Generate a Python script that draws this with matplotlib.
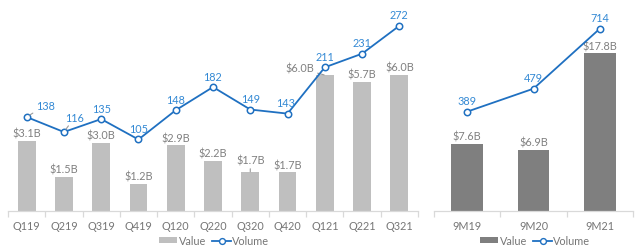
import matplotlib
matplotlib.use("Agg")
import matplotlib.pyplot as plt
from matplotlib.lines import Line2D
from matplotlib.patches import Patch

plt.rcParams['font.family'] = ['Lato', 'DejaVu Sans']

# ---- data ----
q_labels = ["Q119", "Q219", "Q319", "Q419", "Q120", "Q220", "Q320", "Q420", "Q121", "Q221", "Q321"]
q_value = [3.1, 1.5, 3.0, 1.2, 2.9, 2.2, 1.7, 1.7, 6.0, 5.7, 6.0]
q_volume = [138, 116, 135, 105, 148, 182, 149, 143, 211, 231, 272]

m_labels = ["9M19", "9M20", "9M21"]
m_value = [7.6, 6.9, 17.8]
m_volume = [389, 479, 714]

BLUE = "#1f70c1"
BLUE_TXT = "#3389d4"
GREY_TXT = "#808080"
TICK_TXT = "#767676"
AXIS_C = "#d9d9d9"
LEAD_C = "#9a9a9a"
FS = 7.8

fig = plt.figure(figsize=(6.4, 2.53), dpi=100)
W, H = 640, 253


def make_axes(x0, x1, n, bar_top, line_top, bar_color, labels, values, volumes,
              val_offsets, vol_offsets, legend_center):
    ax = fig.add_axes([x0 / W, 41 / H, (x1 - x0) / W, 202 / H])
    ax2 = ax.twinx()
    xs = list(range(n))
    ax.bar(xs, values, width=0.48, color=bar_color, zorder=2)
    ax2.plot(xs, volumes, color=BLUE, lw=1.3, marker='o', ms=4.6,
             mfc='white', mec=BLUE, mew=1.1, zorder=3)
    ax.set_xlim(-0.5, n - 0.5)
    ax.set_ylim(0, bar_top)
    ax2.set_ylim(0, line_top)
    for a in (ax, ax2):
        for s in ("top", "right", "left"):
            a.spines[s].set_visible(False)
        a.set_yticks([])
    ax2.spines["bottom"].set_visible(False)
    ax.spines["bottom"].set_color(AXIS_C)
    ax.spines["bottom"].set_linewidth(0.9)
    ax.set_xticks(xs)
    ax.set_xticklabels(labels, fontsize=FS, color=TICK_TXT)
    ax.tick_params(axis='x', which='major', length=0, pad=6.5)
    ax.set_xticks([i - 0.5 for i in range(n + 1)], minor=True)
    ax.tick_params(axis='x', which='minor', length=4, color=AXIS_C, width=0.9)
    ax.set_zorder(1)
    ax2.set_zorder(2)

    for i, v in enumerate(values):
        dx, dy, lead = val_offsets.get(i, (0, 7, False))
        ax.annotate(f"${v:.1f}B", (i, v), xytext=(dx * 0.72, dy * 0.72 + 0.5),
                    textcoords='offset points', ha='center', va='center',
                    fontsize=FS, color=GREY_TXT,
                    arrowprops=dict(arrowstyle='-', color=LEAD_C, lw=0.8,
                                    shrinkA=0.5, shrinkB=0.5) if lead else None)
    for i, v in enumerate(volumes):
        dx, dy, lead = vol_offsets.get(i, (0, 11, False))
        ax2.annotate(f"{v}", (i, v), xytext=(dx * 0.72, dy * 0.72),
                     textcoords='offset points', ha='center', va='center',
                     fontsize=FS, color=BLUE_TXT,
                     arrowprops=dict(arrowstyle='-', color=LEAD_C, lw=0.8,
                                     shrinkA=0.5, shrinkB=2.5) if lead else None)

    handles = [Patch(facecolor=bar_color, edgecolor='none', label='Value'),
               Line2D([0], [0], color=BLUE, lw=1.3, marker='o', ms=4.2,
                      mfc='white', mec=BLUE, mew=1.0, label='Volume')]
    fig.legend(handles=handles, loc='center',
               bbox_to_anchor=(legend_center[0] / W, 1 - legend_center[1] / H),
               ncol=2, frameon=False, fontsize=FS, handlelength=1.7,
               handleheight=0.5, handletextpad=0.15, columnspacing=0.6,
               labelcolor=TICK_TXT)
    return ax, ax2


make_axes(8, 418, len(q_labels), 202 / 22.65, 202 / 0.681, "#bfbfbf",
          q_labels, q_value, q_volume,
          val_offsets={6: (0, 12, True), 8: (-25, 6, True)},
          vol_offsets={0: (19, 12, True), 1: (11, 15, True), 7: (-2, 11, False)},
          legend_center=(214, 241.5))

make_axes(434, 633, len(m_labels), 202 / 8.86, 202 / 0.2554, "#7f7f7f",
          m_labels, m_value, m_volume,
          val_offsets={}, vol_offsets={},
          legend_center=(535, 241.5))

fig.savefig("out.png", dpi=100)
